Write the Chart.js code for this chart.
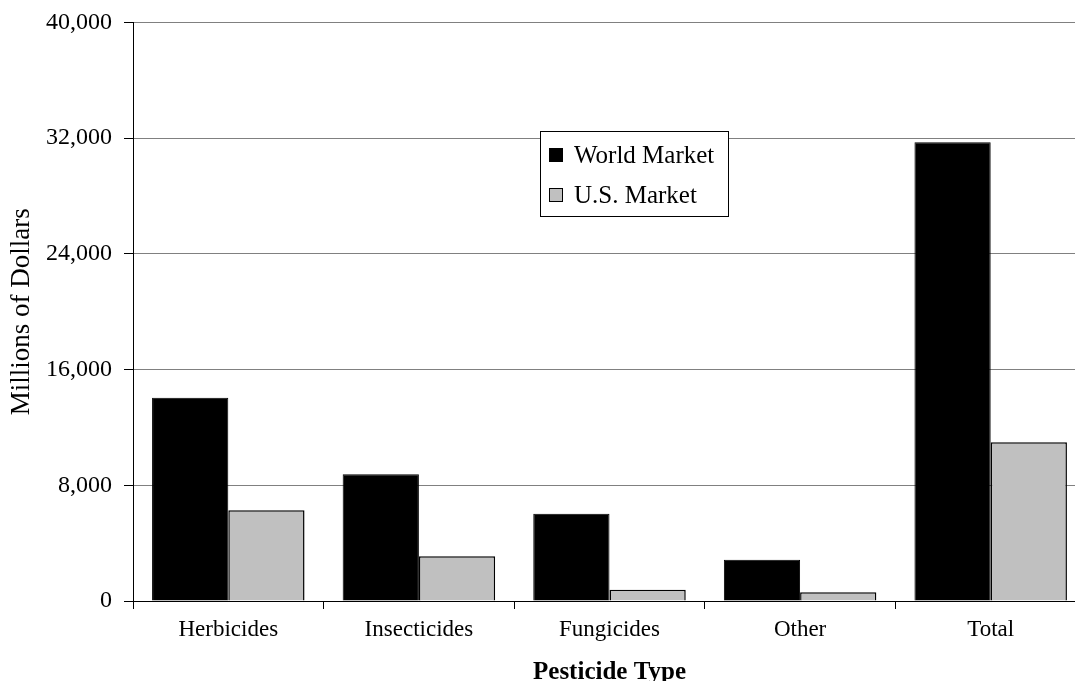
<!DOCTYPE html>
<html>
<head>
<meta charset="utf-8">
<script src="https://cdn.jsdelivr.net/npm/chart.js@4/dist/chart.umd.min.js"></script>
<style>
  html, body { margin: 0; padding: 0; background: #ffffff; overflow: hidden; }
  #wrap { width: 1075px; height: 681px; position: relative; overflow: hidden; }
  #c { position: absolute; left: 0; top: -4px; }
</style>
</head>
<body>
<div id="wrap"><canvas id="c" width="1086" height="685"></canvas></div>
<script>
const categories = ["Herbicides", "Insecticides", "Fungicides", "Other", "Total"];
const worldMarket = [14050, 8770, 6030, 2850, 31720];
const usMarket = [6280, 3100, 780, 610, 10980];
const seriesNames = ["World Market", "U.S. Market"];
const yTicks = [0, 8000, 16000, 24000, 32000, 40000];
const xTitle = "Pesticide Type";
const yTitle = "Millions of Dollars";

const FONT = "'Liberation Serif', 'Times New Roman', serif";
const SHIFT = 4; // canvas is offset upward by this many pixels

const legendBox = {
  id: 'legendBox',
  afterDraw(chart) {
    const ctx = chart.ctx;
    const x0 = 540.5, y0 = 131.5 + SHIFT, w = 188, h = 85;
    ctx.save();
    ctx.fillStyle = '#ffffff';
    ctx.fillRect(x0, y0, w, h);
    ctx.strokeStyle = '#000000';
    ctx.lineWidth = 1;
    ctx.strokeRect(x0, y0, w, h);
    const rows = [155 + SHIFT, 195 + SHIFT];
    chart.data.datasets.forEach((ds, i) => {
      const cy = rows[i];
      ctx.fillStyle = ds.backgroundColor;
      ctx.fillRect(549.5, cy - 6.5, 13, 13);
      ctx.strokeStyle = '#000000';
      ctx.strokeRect(549.5, cy - 6.5, 13, 13);
      ctx.fillStyle = '#000000';
      ctx.font = '25px ' + FONT;
      ctx.textBaseline = 'middle';
      ctx.textAlign = 'left';
      ctx.fillText(ds.label, 574, cy + 1);
    });
    ctx.restore();
  }
};

new Chart(document.getElementById('c'), {
  type: 'bar',
  data: {
    labels: categories,
    datasets: [
      { label: seriesNames[0], data: worldMarket, backgroundColor: '#000000', borderColor: '#000000', borderWidth: 1 },
      { label: seriesNames[1], data: usMarket, backgroundColor: '#C0C0C0', borderColor: '#000000', borderWidth: 1.5 }
    ]
  },
  options: {
    responsive: false,
    animation: false,
    devicePixelRatio: 1,
    layout: { padding: { top: 18, right: 0, bottom: 0, left: 0 } },
    datasets: { bar: { categoryPercentage: 0.8, barPercentage: 1.0 } },
    plugins: { legend: { display: false }, tooltip: { enabled: false } },
    scales: {
      x: {
        afterFit: (s) => { s.height = 80; },
        grid: { display: true, drawOnChartArea: false, tickLength: 8, tickColor: '#000000', color: '#000000' },
        border: { display: true, color: '#000000', width: 1 },
        ticks: { color: '#000000', font: { family: FONT, size: 23 }, padding: 7, maxRotation: 0 },
        title: { display: true, text: xTitle, color: '#000000', font: { family: FONT, size: 25, weight: 'bold', lineHeight: 0.66 }, padding: 0 }
      },
      y: {
        min: 0, max: 40000,
        afterFit: (s) => { s.width = 133; },
        afterBuildTicks: (s) => { s.ticks = yTicks.map(v => ({ value: v })); },
        grid: { color: '#808080', tickColor: '#000000', tickLength: 9, lineWidth: 1 },
        border: { display: true, color: '#000000', width: 1 },
        ticks: {
          color: '#000000', font: { family: FONT, size: 24 }, padding: 12,
          callback: (v) => Number(v).toLocaleString('en-US')
        },
        title: { display: true, text: yTitle, color: '#000000', font: { family: FONT, size: 27, lineHeight: 1.2 }, padding: { top: 6, bottom: 0 } }
      }
    }
  },
  plugins: [legendBox]
});
</script>
</body>
</html>
